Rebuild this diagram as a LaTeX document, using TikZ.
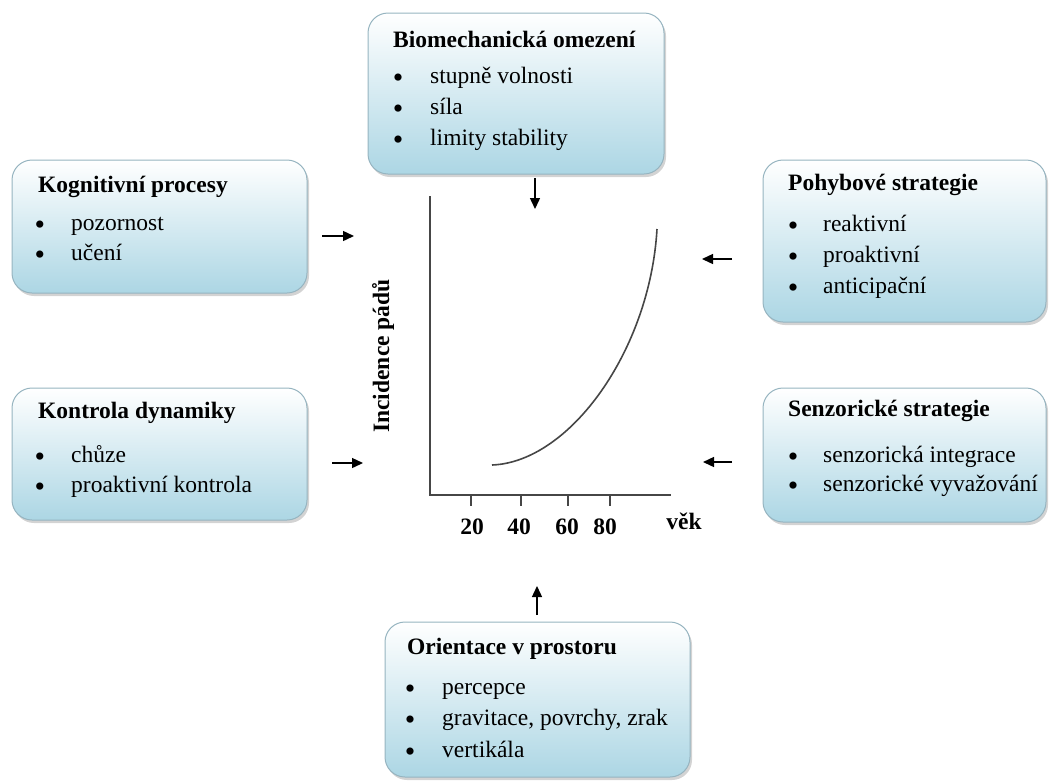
\documentclass[tikz,border=0pt]{standalone}
\usepackage{fontspec}
\setmainfont{Liberation Serif}
\usetikzlibrary{shadows,arrows.meta}
\definecolor{boxblue}{RGB}{172,214,228}
\definecolor{boxedge}{RGB}{150,180,192}
\definecolor{axisgray}{RGB}{70,70,70}
\tikzset{
  box/.style={draw=boxedge, line width=1pt, rounded corners=20pt, top color=white, bottom color=boxblue, middle color=white!50!boxblue,
    drop shadow={opacity=0.35, shadow xshift=2pt, shadow yshift=-3pt}, inner sep=0pt},
  ttl/.style={anchor=mid west, inner sep=0pt, font=\fontsize{23.5}{27}\selectfont\bfseries},
  itm/.style={anchor=mid west, inner sep=0pt, font=\fontsize{23.5}{27}\selectfont},
  bul/.style={anchor=center, inner sep=0pt, font=\fontsize{30}{30}\selectfont},
  arr/.style={-{Triangle[length=11pt,width=10pt]}, line width=1.4pt, black},
  axis/.style={line width=2pt, axisgray},
  lbl/.style={inner sep=0pt, font=\fontsize{23.5}{27}\selectfont\bfseries},
}
\begin{document}
\begin{tikzpicture}[x=1pt,y=-1pt]
\useasboundingbox (0,0) rectangle (1051,782);
% boxes
\node[box, minimum width=296pt, minimum height=161pt] (bio) at (516,93.5) {};
\node[box, minimum width=295pt, minimum height=133pt] (kog) at (159.5,226.5) {};
\node[box, minimum width=283pt, minimum height=162pt] (poh) at (904.5,241) {};
\node[box, minimum width=283pt, minimum height=134pt] (sen) at (904.5,455) {};
\node[box, minimum width=295pt, minimum height=132pt] (kon) at (159.5,454) {};
\node[box, minimum width=305pt, minimum height=155pt] (ori) at (537.5,699.5) {};
% Biomechanicka
\node[ttl] (bio-t) at (393,45) {Biomechanická omezení};
\node[bul] (bio-b1) at (398,81) {\textbullet};
\node[itm] (bio-i1) at (430,81) {stupně volnosti};
\node[bul] (bio-b2) at (398,112) {\textbullet};
\node[itm] (bio-i2) at (430,112) {síla};
\node[bul] (bio-b3) at (398,143) {\textbullet};
\node[itm] (bio-i3) at (430,143) {limity stability};
% Kognitivni
\node[ttl] (kog-t) at (38,190) {Kognitivní procesy};
\node[bul] (kog-b1) at (40,228) {\textbullet};
\node[itm] (kog-i1) at (71,228) {pozornost};
\node[bul] (kog-b2) at (40,258) {\textbullet};
\node[itm] (kog-i2) at (71,258) {učení};
% Pohybove
\node[ttl] (poh-t) at (788,188) {Pohybové strategie};
\node[bul] (poh-b1) at (793,229) {\textbullet};
\node[itm] (poh-i1) at (823,229) {reaktivní};
\node[bul] (poh-b2) at (793,260) {\textbullet};
\node[itm] (poh-i2) at (823,260) {proaktivní};
\node[bul] (poh-b3) at (793,291) {\textbullet};
\node[itm] (poh-i3) at (823,291) {anticipační};
% Senzoricke
\node[ttl] (sen-t) at (788,414) {Senzorické strategie};
\node[bul] (sen-b1) at (793,460) {\textbullet};
\node[itm] (sen-i1) at (823,460) {senzorická integrace};
\node[bul] (sen-b2) at (793,489) {\textbullet};
\node[itm] (sen-i2) at (823,489) {senzorické vyvažování};
% Kontrola
\node[ttl] (kon-t) at (38,416) {Kontrola dynamiky};
\node[bul] (kon-b1) at (40,460) {\textbullet};
\node[itm] (kon-i1) at (71,460) {chůze};
\node[bul] (kon-b2) at (40,490) {\textbullet};
\node[itm] (kon-i2) at (71,490) {proaktivní kontrola};
% Orientace
\node[ttl] (ori-t) at (407,652) {Orientace v prostoru};
\node[bul] (ori-b1) at (410,692) {\textbullet};
\node[itm] (ori-i1) at (442,692) {percepce};
\node[bul] (ori-b2) at (410,723) {\textbullet};
\node[itm] (ori-i2) at (442,723) {gravitace, povrchy, zrak};
\node[bul] (ori-b3) at (410,755) {\textbullet};
\node[itm] (ori-i3) at (442,755) {vertikála};
% graph
\coordinate (ytop) at (430,197);
\coordinate (orig) at (430,495);
\coordinate (xend) at (670,495);
\draw[axis, line cap=rect] (ytop) -- (orig) -- (xend);
\foreach \x/\t in {471/20,521/40,568/60,610/80}{
  \coordinate (tk\t) at (\x,495);
  \coordinate (tb\t) at (\x,506);
  \draw[axis] (tk\t) -- (tb\t);
}
\node[lbl] (l20) at (472,527) {20};
\node[lbl] (l40) at (519,527) {40};
\node[lbl] (l60) at (567,527) {60};
\node[lbl] (l80) at (605,527) {80};
\node[lbl] (vek) at (684,521) {věk};
\node[lbl, rotate=90] (ylab) at (383,356) {Incidence pádů};
\coordinate (cs) at (492,465);
\coordinate (ce) at (657,229);
\draw[line width=1.6pt, axisgray] (cs) .. controls (570,462) and (650,350) .. (ce);
% arrows
\coordinate (a1s) at (535,178); \coordinate (a1e) at (535,209);
\coordinate (a2s) at (322,236); \coordinate (a2e) at (354,236);
\coordinate (a3s) at (332,463); \coordinate (a3e) at (363,463);
\coordinate (a4s) at (732,259); \coordinate (a4e) at (702,259);
\coordinate (a5s) at (732,462); \coordinate (a5e) at (703,462);
\coordinate (a6s) at (537,615); \coordinate (a6e) at (537,586);
\draw[arr] (a1s) -- (a1e);
\draw[arr] (a2s) -- (a2e);
\draw[arr] (a3s) -- (a3e);
\draw[arr] (a4s) -- (a4e);
\draw[arr] (a5s) -- (a5e);
\draw[arr] (a6s) -- (a6e);
\end{tikzpicture}
\end{document}
